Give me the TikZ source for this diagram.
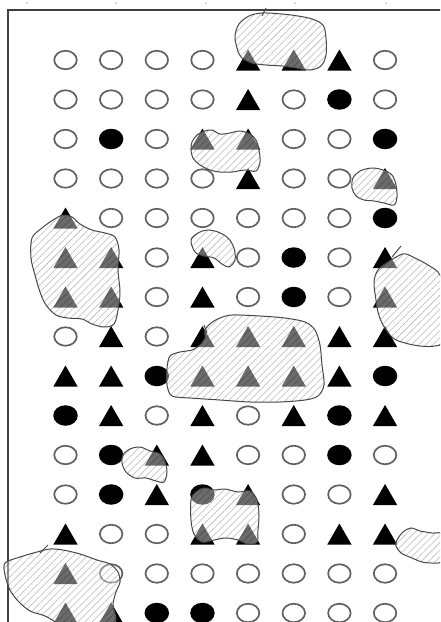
\documentclass[tikz,border=0pt]{standalone}
\usetikzlibrary{shapes.geometric,patterns.meta}
\tikzset{
  symo/.style={ellipse, draw=black!62, line width=1.7pt, minimum width=22.5pt, minimum height=18.5pt, inner sep=0pt},
  symf/.style={ellipse, fill=black, minimum width=24.5pt, minimum height=20.5pt, inner sep=0pt},
  symt/.style={regular polygon, regular polygon sides=3, fill=black, minimum size=28pt, inner sep=0pt, yshift=-3.5pt},
  blob/.style={draw=black!72, line width=1pt,
    preaction={fill=white, fill opacity=0.42},
    preaction={pattern={Lines[angle=45,distance=5pt,line width=0.55pt]}, pattern color=black!28, blend mode=multiply}},
  blobtick/.style={draw=black!72, line width=1pt},
  framel/.style={draw=black!75, line width=1.8pt},
  tickdot/.style={circle, fill=black!25, inner sep=0pt, minimum size=2pt}
}
\begin{document}
\begin{tikzpicture}[x=1pt,y=-1pt]
\useasboundingbox (0,0) rectangle (440,622);
\clip (0,0) rectangle (440,622);
% top tick dots
\foreach \tx [count=\i] in {27,116,206,295,386} \node[tickdot] (tick\i) at (\tx,3) {};
% frame
\draw[framel] (8,660) -- (8,10) -- (470,10);
% symbols
\foreach \r/\row in {
  1/{o,o,o,o,t,t,t,o},
  2/{o,o,o,o,t,o,f,o},
  3/{o,f,o,t,t,o,o,f},
  4/{o,o,o,o,t,o,o,t},
  5/{t,o,o,o,o,o,o,f},
  6/{t,t,o,t,o,f,o,t},
  7/{t,t,o,t,o,f,o,t},
  8/{o,t,o,t,t,t,t,t},
  9/{t,t,f,t,t,t,t,f},
  10/{f,t,o,t,o,t,f,t},
  11/{o,f,t,t,o,o,f,o},
  12/{o,f,t,f,t,o,o,t},
  13/{t,o,o,t,t,o,t,t},
  14/{t,o,o,o,o,o,o,o},
  15/{t,t,f,f,o,o,o,o}} {
  \foreach \k [count=\c] in \row {
    \node[sym\k] (s-\r-\c) at ({65.5+45.65*(\c-1)}, {60+39.5*(\r-1)}) {};
  }
}
% hatched regions
\draw[blob] plot[smooth cycle, tension=0.55] coordinates {(262,13) (249,16) (239,24) (235,36) (237,48) (241,57) (252,63) (266,65) (282,66) (296,68) (310,70) (321,66) (326,55) (326,38) (323,25) (312,19) (298,16) (282,14)};
\draw[blobtick] (262,16) -- (266,8);
\draw[blob] plot[smooth cycle, tension=0.55] coordinates {(192,142) (197,135) (205,131) (212,130) (220,134) (230,133) (240,131) (250,134) (256,140) (259,150) (260,162) (256,171) (245,170) (232,172) (220,172) (210,170) (200,165) (193,158) (191,150)};
\draw[blob] plot[smooth cycle, tension=0.55] coordinates {(353,178) (360,171) (372,168) (383,170) (392,175) (396,185) (397,197) (394,205) (384,203) (374,201) (364,200) (356,196) (352,188)};
\draw[blob] plot[smooth cycle, tension=0.55] coordinates {(32,238) (42,228) (53,220) (63,215) (72,217) (80,224) (92,230) (105,233) (115,237) (119,250) (118,270) (120,292) (118,310) (114,324) (104,327) (92,324) (82,319) (68,318) (56,315) (46,305) (40,292) (35,275) (31,258)};
\draw[blob] plot[smooth cycle, tension=0.55] coordinates {(191,240) (198,233) (207,230) (218,232) (228,238) (234,248) (235,260) (229,267) (222,264) (214,258) (204,256) (195,252)};
\draw[blob] plot[smooth cycle, tension=0.55] coordinates {(400,255) (388,262) (378,270) (374,282) (376,300) (378,312) (383,325) (393,338) (405,343) (420,346) (435,346) (442,340) (444,300) (440,275) (428,265) (415,258) (406,254)};
\draw[blobtick] (392,257) -- (401,246);
\draw[blob] plot[smooth cycle, tension=0.5] coordinates {(205,330) (211,323) (220,318) (232,315) (260,316) (285,318) (305,322) (315,330) (320,345) (322,365) (324,385) (318,396) (305,400) (280,402) (250,402) (220,400) (190,398) (172,396) (167,385) (167,368) (170,356) (180,352) (192,350) (200,345) (205,338)};
\draw[blobtick] (207,333) -- (204,325);
\draw[blob] plot[smooth cycle, tension=0.55] coordinates {(123,455) (130,449) (140,447) (150,451) (160,454) (165,462) (167,472) (164,482) (156,481) (146,478) (135,478) (126,472) (122,463)};
\draw[blob] plot[smooth cycle, tension=0.55] coordinates {(191,500) (196,492) (204,488) (214,490) (225,489) (238,492) (250,491) (257,500) (259,515) (258,530) (257,542) (248,544) (238,540) (226,538) (214,540) (202,542) (194,534) (191,520)};
\draw[blob] plot[smooth cycle, tension=0.55] coordinates {(397,540) (403,532) (411,528) (420,531) (432,533) (442,535) (444,560) (432,563) (422,562) (412,558) (401,553) (396,546)};
\draw[blob] plot[smooth cycle, tension=0.5] coordinates {(5,563) (20,557) (37,552) (50,549) (63,550) (80,554) (97,560) (110,564) (118,572) (120,582) (116,592) (113,605) (116,620) (110,640) (80,640) (60,625) (45,616) (30,611) (18,601) (10,590) (5,575)};
\draw[blobtick] (40,553) -- (48,545);
\end{tikzpicture}
\end{document}
